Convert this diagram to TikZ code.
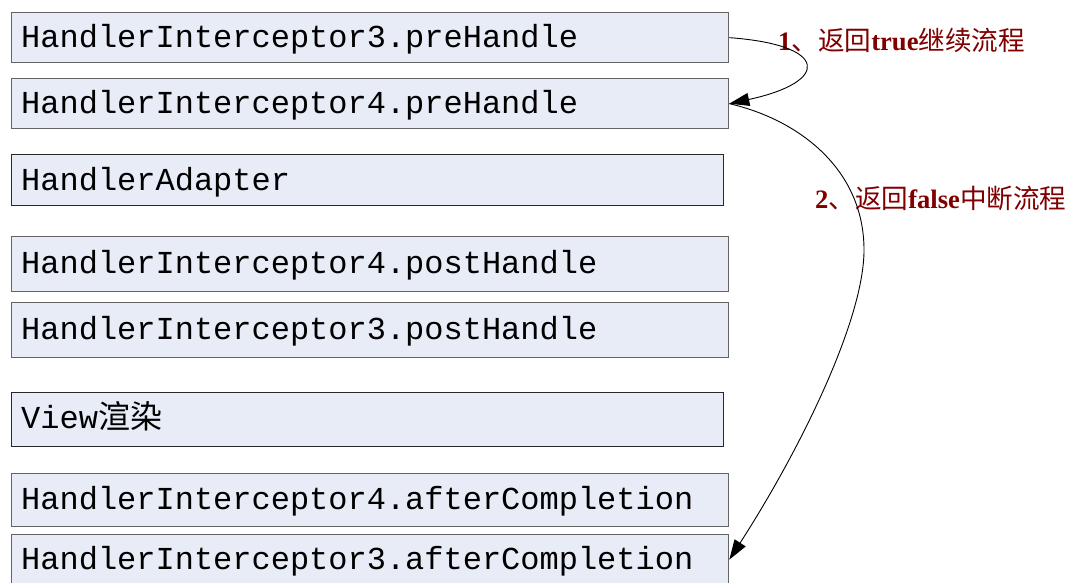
\documentclass[tikz,border=0pt]{standalone}
\usepackage{fontspec}
\setmainfont{Liberation Serif}
\newfontfamily\monofnt{Liberation Mono}
\newfontfamily\cjkfnt{Noto Sans CJK SC}
\usetikzlibrary{arrows.meta}
\definecolor{boxfill}{RGB}{232,236,247}
\definecolor{boxline}{RGB}{100,100,100}
\definecolor{boxdark}{RGB}{40,40,40}
\definecolor{lblred}{RGB}{128,0,0}
\begin{document}
\begin{tikzpicture}[x=1pt,y=-1pt,
  box/.style={draw=boxline,fill=boxfill,line width=1.3pt,anchor=north west,inner sep=0pt,minimum width=717pt},
  darkbox/.style={box,draw=boxdark,minimum width=712pt},
  boxtext/.style={anchor=base west,inner sep=0pt,font=\monofnt\fontsize{32}{38}\selectfont},
  lbl/.style={anchor=base west,inner sep=0pt,text=lblred,font=\fontsize{26.6}{30}\selectfont},
  conn/.style={draw=black,line width=0.9pt,-{Triangle[length=20pt,width=13pt]}}]
\clip (0,0) rectangle (1067,582);
\node[box,minimum height=50pt] (b1) at (11,12) {};
\node[box,minimum height=50pt] (b2) at (11,78) {};
\node[darkbox,minimum height=51pt] (b3) at (11,154) {};
\node[box,minimum height=55pt] (b4) at (11,236) {};
\node[box,minimum height=55pt] (b5) at (11,302) {};
\node[darkbox,minimum height=54pt] (b6) at (11,392) {};
\node[box,minimum height=53pt] (b7) at (11,473) {};
\node[box,minimum height=50pt] (b8) at (11,534) {};
\node[boxtext] (t1) at (21,47) {HandlerInterceptor3.preHandle};
\node[boxtext] (t2) at (21,113) {HandlerInterceptor4.preHandle};
\node[boxtext] (t3) at (21,190) {HandlerAdapter};
\node[boxtext] (t4) at (21,273.5) {HandlerInterceptor4.postHandle};
\node[boxtext] (t5) at (21,339.5) {HandlerInterceptor3.postHandle};
\node[boxtext] (t6) at (21,428.5) {View{\cjkfnt 渲染}};
\node[boxtext] (t7) at (21,509) {HandlerInterceptor4.afterCompletion};
\node[boxtext] (t8) at (21,569) {HandlerInterceptor3.afterCompletion};
\node[lbl] (l1) at (778,50) {\textbf{1}{\cjkfnt 、返回}\textbf{true}{\cjkfnt 继续流程}};
\node[lbl] (l2) at (815,208) {\textbf{2}{\cjkfnt 、返回}\textbf{false}{\cjkfnt 中断流程}};
\draw[conn] (b1.east) .. controls (830,45) and (830,82) .. (b2.east);
\coordinate (m2) at (864,250);
\draw[conn] (b2.east) .. controls (800,120) and (864,170) .. (m2) .. controls (864,320) and (800,450) .. (b8.east);
\end{tikzpicture}
\end{document}
